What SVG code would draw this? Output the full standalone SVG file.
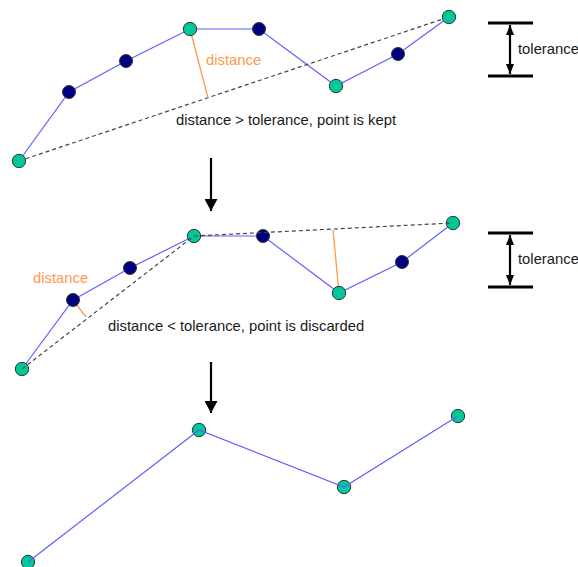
<svg xmlns="http://www.w3.org/2000/svg" width="578" height="567" viewBox="0 0 578 567">
<defs>
<style>
.poly{fill:none;stroke:#6060ff;stroke-width:1.2}
.dash{fill:none;stroke:#444;stroke-width:1.2;stroke-dasharray:4,3}
.dist{fill:none;stroke:#ff9a50;stroke-width:1.3}
.key{fill:#00c896;stroke:#333;stroke-width:1}
.mid{fill:#000080;stroke:#333;stroke-width:1}
.lbl{font-family:"Liberation Sans",Arial,sans-serif;font-size:14.8px;fill:#1a1a1a}
.olbl{font-family:"Liberation Sans",Arial,sans-serif;font-size:14.8px;fill:#ff9a50}
.bar{stroke:#000;stroke-width:3}
.step{stroke:#000;stroke-width:2.2;fill:none}
</style>
<marker id="head" viewBox="0 0 12 13" refX="12" refY="6.5" markerWidth="12" markerHeight="13" markerUnits="userSpaceOnUse" orient="auto">
<path d="M0,0 L12,6.5 L0,13 Z" fill="#000"/>
</marker>
<marker id="thead" viewBox="0 0 10 8" refX="10" refY="4" markerWidth="10" markerHeight="8" markerUnits="userSpaceOnUse" orient="auto-start-reverse">
<path d="M0,0 L10,4 L0,8 Z" fill="#000"/>
</marker>
</defs>
<rect width="578" height="567" fill="#fff"/>

<!-- Panel 1 -->
<g id="connectors1">
<polyline class="poly" points="19,161 69,92 126,61 190,29 259,29 336,86 398,54 449,17"/>
<line class="dash" x1="19" y1="161" x2="449" y2="17"/>
<line class="dist" x1="190" y1="29" x2="208" y2="98"/>
</g>
<g id="p1-nodes">
<g id="p1-n1"><circle class="key" cx="19" cy="161" r="6.7"/></g>
<g id="p1-n2"><circle class="mid" cx="69" cy="92" r="6.5"/></g>
<g id="p1-n3"><circle class="mid" cx="126" cy="61" r="6.5"/></g>
<g id="p1-n4"><circle class="key" cx="190" cy="29" r="6.7"/></g>
<g id="p1-n5"><circle class="mid" cx="259" cy="29" r="6.5"/></g>
<g id="p1-n6"><circle class="key" cx="336" cy="86" r="6.7"/></g>
<g id="p1-n7"><circle class="mid" cx="398" cy="54" r="6.5"/></g>
<g id="p1-n8"><circle class="key" cx="449" cy="17" r="6.7"/></g>
</g>
<text class="olbl" x="206" y="65">distance</text>
<text class="lbl" x="176" y="125">distance &gt; tolerance, point is kept</text>
<g id="tol1">
<line class="bar" x1="488" y1="23" x2="533" y2="23"/>
<line class="bar" x1="488" y1="76" x2="533" y2="76"/>
<line class="step" x1="510" y1="25" x2="510" y2="74" marker-start="url(#thead)" marker-end="url(#thead)"/>
<text class="lbl" x="518" y="54">tolerance</text>
</g>

<g id="arrows">
<line class="step" x1="211" y1="158" x2="211" y2="211" marker-end="url(#head)"/>
<line class="step" x1="211" y1="362" x2="211" y2="413" marker-end="url(#head)"/>
</g>

<!-- Panel 2 -->
<g id="connectors2">
<polyline class="poly" points="22,369 73,300 130,268 194,236 263,236 339,293 402,262 453,223"/>
<line class="dist" x1="73" y1="300" x2="86" y2="317"/>
<line class="dist" x1="339" y1="293" x2="333" y2="230"/>
</g>
<g id="p2-nodes">
<g id="p2-n1"><circle class="key" cx="22" cy="369" r="6.7"/></g>
<g id="p2-n2"><circle class="mid" cx="73" cy="300" r="6.5"/></g>
<g id="p2-n3"><circle class="mid" cx="130" cy="268" r="6.5"/></g>
<g id="p2-n4"><circle class="key" cx="194" cy="236" r="6.7"/></g>
<g id="p2-n5"><circle class="mid" cx="263" cy="236" r="6.5"/></g>
<g id="p2-n6"><circle class="key" cx="339" cy="293" r="6.7"/></g>
<g id="p2-n7"><circle class="mid" cx="402" cy="262" r="6.5"/></g>
<g id="p2-n8"><circle class="key" cx="453" cy="223" r="6.7"/></g>
</g>
<g id="connectors2-dashed">
<line class="dash" x1="22" y1="369" x2="194" y2="236"/>
<line class="dash" x1="194" y1="236" x2="453" y2="223"/>
</g>
<text class="olbl" x="33" y="283">distance</text>
<text class="lbl" x="108" y="331">distance &lt; tolerance, point is discarded</text>
<g id="tol2">
<line class="bar" x1="488" y1="233" x2="533" y2="233"/>
<line class="bar" x1="488" y1="287" x2="533" y2="287"/>
<line class="step" x1="510" y1="235" x2="510" y2="285" marker-start="url(#thead)" marker-end="url(#thead)"/>
<text class="lbl" x="518" y="264">tolerance</text>
</g>

<!-- Panel 3 -->
<g id="p3-nodes">
<g id="p3-n1"><circle class="key" cx="28" cy="562" r="6.7"/></g>
<g id="p3-n2"><circle class="key" cx="199" cy="430" r="6.7"/></g>
<g id="p3-n3"><circle class="key" cx="344" cy="487" r="6.7"/></g>
<g id="p3-n4"><circle class="key" cx="458" cy="416" r="6.7"/></g>
</g>
<g id="connectors3">
<polyline class="poly" points="28,562 199,430 344,487 458,416"/>
</g>
</svg>
